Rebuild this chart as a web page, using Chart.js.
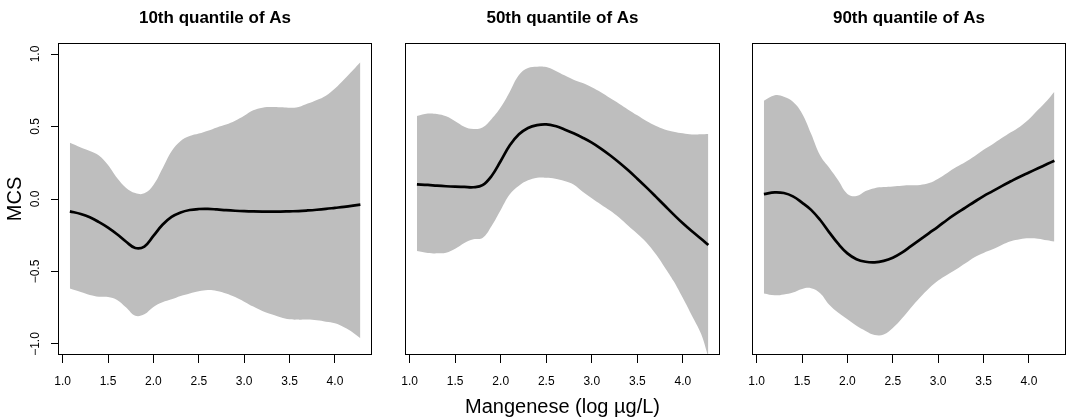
<!DOCTYPE html>
<html>
<head>
<meta charset="utf-8">
<script src="https://cdn.jsdelivr.net/npm/chart.js@4"></script>
<style>
  html, body { margin: 0; padding: 0; background: #fff; }
  body { width: 1071px; height: 418px; position: relative; overflow: hidden; }
  .panel { position: absolute; top: 0; height: 418px; }
  canvas { display: block; }
</style>
</head>
<body>
<div class="panel" style="left:0px;width:380px"><canvas id="c1" width="380" height="418"></canvas></div>
<div class="panel" style="left:380px;width:348px"><canvas id="c2" width="348" height="418"></canvas></div>
<div class="panel" style="left:728px;width:343px"><canvas id="c3" width="343" height="418"></canvas></div>
<script>
// ---- data ----
const panelTitles = ['10th quantile of As', '50th quantile of As', '90th quantile of As'];
const xLabel = 'Mangenese (log \u00b5g/L)';
const yLabel = 'MCS';
const xTicks = [1.0, 1.5, 2.0, 2.5, 3.0, 3.5, 4.0];
const xTickLabels = ['1.0', '1.5', '2.0', '2.5', '3.0', '3.5', '4.0'];
const yTicks = [-1.0, -0.5, 0.0, 0.5, 1.0];
const yTickLabels = ['\u22121.0', '\u22120.5', '0.0', '0.5', '1.0'];

const xs = [1.08, 1.2, 1.3, 1.4, 1.5, 1.6, 1.7, 1.8, 1.9, 2.0, 2.1, 2.2, 2.3, 2.4, 2.5, 2.6, 2.7,
            2.8, 2.9, 3.0, 3.1, 3.2, 3.3, 3.4, 3.5, 3.6, 3.7, 3.8, 3.9, 4.0, 4.1, 4.2, 4.28];

const p1Mean  = [-0.085, -0.103, -0.126, -0.159, -0.197, -0.243, -0.295, -0.338, -0.328, -0.255, -0.178,
                 -0.124, -0.093, -0.076, -0.069, -0.068, -0.072, -0.077, -0.081, -0.084, -0.086, -0.087,
                 -0.087, -0.087, -0.085, -0.083, -0.079, -0.074, -0.068, -0.061, -0.054, -0.046, -0.039];
const p1Upper = [0.388, 0.356, 0.331, 0.300, 0.234, 0.145, 0.076, 0.041, 0.039, 0.097, 0.211, 0.330,
                 0.400, 0.434, 0.451, 0.471, 0.494, 0.513, 0.540, 0.575, 0.612, 0.630, 0.634, 0.632,
                 0.630, 0.635, 0.658, 0.683, 0.713, 0.763, 0.825, 0.890, 0.943];
const p1Lower = [-0.618, -0.641, -0.662, -0.674, -0.676, -0.697, -0.749, -0.805, -0.795, -0.745, -0.713,
                 -0.692, -0.669, -0.651, -0.637, -0.628, -0.634, -0.651, -0.676, -0.708, -0.742, -0.772,
                 -0.795, -0.816, -0.830, -0.832, -0.831, -0.837, -0.846, -0.857, -0.885, -0.922, -0.961];

const p2Mean  = [0.101, 0.097, 0.092, 0.088, 0.085, 0.083, 0.081, 0.095, 0.159, 0.262, 0.370, 0.446,
                 0.490, 0.510, 0.515, 0.503, 0.480, 0.453, 0.423, 0.389, 0.348, 0.302, 0.252, 0.198,
                 0.140, 0.080, 0.018, -0.045, -0.108, -0.168, -0.223, -0.274, -0.317];
const p2Upper = [0.572, 0.589, 0.586, 0.570, 0.536, 0.499, 0.483, 0.494, 0.552, 0.632, 0.740, 0.855,
                 0.903, 0.913, 0.910, 0.885, 0.853, 0.823, 0.800, 0.770, 0.736, 0.696, 0.657, 0.616,
                 0.577, 0.538, 0.505, 0.480, 0.464, 0.453, 0.445, 0.446, 0.448];
const p2Lower = [-0.359, -0.372, -0.375, -0.370, -0.343, -0.303, -0.278, -0.269, -0.186, -0.076, 0.032,
                 0.092, 0.129, 0.147, 0.147, 0.140, 0.124, 0.100, 0.050, 0.005, -0.038, -0.080, -0.128,
                 -0.185, -0.240, -0.300, -0.378, -0.470, -0.568, -0.683, -0.805, -0.930, -1.090];

const p3Mean  = [0.034, 0.046, 0.041, 0.018, -0.025, -0.075, -0.145, -0.230, -0.310, -0.375, -0.415,
                 -0.433, -0.437, -0.427, -0.405, -0.370, -0.325, -0.280, -0.235, -0.190, -0.143, -0.100,
                 -0.060, -0.019, 0.020, 0.054, 0.089, 0.122, 0.154, 0.183, 0.212, 0.241, 0.264];
const p3Upper = [0.678, 0.715, 0.705, 0.670, 0.590, 0.450, 0.300, 0.215, 0.127, 0.035, 0.020, 0.055,
                 0.075, 0.082, 0.087, 0.092, 0.094, 0.097, 0.110, 0.140, 0.180, 0.220, 0.255, 0.295,
                 0.340, 0.378, 0.420, 0.460, 0.499, 0.550, 0.615, 0.680, 0.740];
const p3Lower = [-0.651, -0.664, -0.658, -0.645, -0.620, -0.615, -0.650, -0.730, -0.785, -0.830, -0.875,
                 -0.910, -0.938, -0.935, -0.890, -0.825, -0.750, -0.680, -0.615, -0.562, -0.522, -0.485,
                 -0.444, -0.402, -0.372, -0.347, -0.317, -0.292, -0.278, -0.271, -0.274, -0.285, -0.294];

// ---- rendering ----
const FONT = '"Liberation Sans", Arial, Helvetica, sans-serif';
const BAND = '#BEBEBE';
Chart.defaults.font.family = FONT;
Chart.defaults.color = '#000';

const boxPlugin = {
  id: 'box',
  afterDatasetsDraw(chart) {
    const a = chart.chartArea, ctx = chart.ctx;
    ctx.save();
    ctx.strokeStyle = '#000';
    ctx.lineWidth = 1;
    ctx.strokeRect(Math.round(a.left) + 0.5, Math.round(a.top) + 0.5,
                   Math.round(a.right - a.left) - 1, Math.round(a.bottom - a.top) - 1);
    ctx.restore();
  }
};

function pts(arr) { return xs.map((x, i) => ({ x: x, y: arr[i] })); }

function makeChart(id, idx, mean, upper, lower, opts) {
  const yAxis = {
    type: 'linear', min: -1.076, max: 1.076,
    display: opts.showY,
    afterBuildTicks: s => { s.ticks = yTicks.map(v => ({ value: v })); },
    afterFit: s => { s.width = opts.showY ? 58 : 0; },
    border: { display: false },
    grid: { drawOnChartArea: false, drawTicks: true, tickLength: 7, tickColor: '#000', tickWidth: 1 },
    ticks: {
      font: { size: 12, family: FONT }, color: '#000',
      minRotation: 90, maxRotation: 90, crossAlign: 'center', padding: 3,
      callback: (v) => { const k = yTicks.indexOf(v); return k >= 0 ? yTickLabels[k] : ''; }
    },
    title: { display: opts.showY, text: yLabel, font: { size: 20, family: FONT }, color: '#000',
             padding: { top: 3, bottom: 0 } }
  };
  return new Chart(document.getElementById(id), {
    type: 'line',
    data: {
      datasets: [
        { data: pts(mean), borderColor: '#000', borderWidth: 2.7, pointRadius: 0, fill: false,
          tension: 0.4, order: 0 },
        { data: pts(upper), borderWidth: 0, borderColor: 'rgba(0,0,0,0)', backgroundColor: BAND,
          pointRadius: 0, fill: '+1', tension: 0.4, order: 1 },
        { data: pts(lower), borderWidth: 0, borderColor: 'rgba(0,0,0,0)', backgroundColor: BAND,
          pointRadius: 0, fill: false, tension: 0.4, order: 2 }
      ]
    },
    options: {
      responsive: false, animation: false, devicePixelRatio: 1,
      layout: { padding: { left: opts.padLeft, right: opts.padRight, top: 0, bottom: 0 } },
      plugins: {
        legend: { display: false }, tooltip: { enabled: false },
        title: { display: true, text: panelTitles[idx], fullSize: false, color: '#000',
                 font: { size: 17, weight: 'bold', family: FONT, lineHeight: 1.2 },
                 padding: { top: 8, bottom: 14.6 } }
      },
      scales: {
        x: {
          type: 'linear', min: 0.949, max: 4.408,
          afterBuildTicks: s => { s.ticks = xTicks.map(v => ({ value: v })); },
          afterFit: s => { s.height = 63; },
          border: { display: false },
          grid: { drawOnChartArea: false, drawTicks: true, tickLength: 8, tickColor: '#000', tickWidth: 1 },
          ticks: {
            font: { size: 12, family: FONT }, color: '#000', padding: 11, maxRotation: 0,
            callback: (v) => { const k = xTicks.indexOf(v); return k >= 0 ? xTickLabels[k] : ''; }
          },
          title: { display: opts.showXTitle, text: xLabel,
                   font: { size: 20, family: FONT, lineHeight: 1.05 }, color: '#000',
                   padding: { top: 0, bottom: 0 } }
        },
        y: yAxis
      }
    },
    plugins: [boxPlugin]
  });
}

makeChart('c1', 0, p1Mean, p1Upper, p1Lower, { showY: true, showXTitle: false, padLeft: 0, padRight: 8 });
makeChart('c2', 1, p2Mean, p2Upper, p2Lower, { showY: false, showXTitle: true, padLeft: 25, padRight: 8 });
makeChart('c3', 2, p3Mean, p3Upper, p3Lower, { showY: false, showXTitle: false, padLeft: 24, padRight: 5 });
</script>
</body>
</html>
